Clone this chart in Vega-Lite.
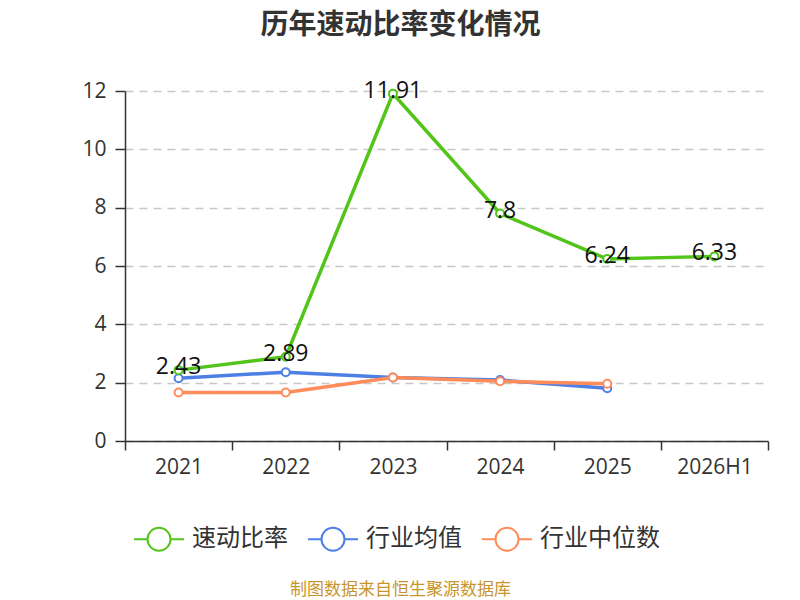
{
  "$schema": "https://vega.github.io/schema/vega-lite/v6.json",
  "width": 643,
  "height": 350,
  "autosize": {"type": "none"},
  "padding": {"top": 91, "left": 125, "right": 32, "bottom": 159},
  "background": "white",
  "title": {
    "text": "历年速动比率变化情况",
    "anchor": "middle",
    "frame": "group",
    "dx": -46,
    "offset": 40,
    "fontSize": 28,
    "fontWeight": "bold",
    "color": "#333333",
    "font": "Noto Sans CJK SC"
  },
  "data": {
    "values": [
      {"year": "2021", "series": "行业均值", "value": 2.15},
      {"year": "2022", "series": "行业均值", "value": 2.36},
      {"year": "2023", "series": "行业均值", "value": 2.18},
      {"year": "2024", "series": "行业均值", "value": 2.09},
      {"year": "2025", "series": "行业均值", "value": 1.81},
      {"year": "2021", "series": "行业中位数", "value": 1.66},
      {"year": "2022", "series": "行业中位数", "value": 1.66},
      {"year": "2023", "series": "行业中位数", "value": 2.18},
      {"year": "2024", "series": "行业中位数", "value": 2.05},
      {"year": "2025", "series": "行业中位数", "value": 1.96},
      {"year": "2021", "series": "速动比率", "value": 2.43},
      {"year": "2022", "series": "速动比率", "value": 2.89},
      {"year": "2023", "series": "速动比率", "value": 11.91},
      {"year": "2024", "series": "速动比率", "value": 7.8},
      {"year": "2025", "series": "速动比率", "value": 6.24},
      {"year": "2026H1", "series": "速动比率", "value": 6.33}
    ]
  },
  "encoding": {
    "x": {
      "field": "year",
      "type": "ordinal",
      "sort": null,
      "scale": {"type": "band", "paddingInner": 0, "paddingOuter": 0},
      "axis": {
        "title": "制图数据来自恒生聚源数据库",
        "titleX": 275,
        "titleY": 148,
        "titleAlign": "center",
        "titleBaseline": "middle",
        "titleFont": "Noto Sans CJK SC",
        "titleFontSize": 17,
        "titleFontWeight": "normal",
        "titleColor": "#c8952c",
        "labelAngle": 0,
        "tickBand": "extent",
        "tickSize": 9,
        "labelPadding": 6,
        "grid": false
      }
    },
    "y": {
      "field": "value",
      "type": "quantitative",
      "scale": {"domain": [0, 12]},
      "axis": {
        "title": null,
        "values": [0, 2, 4, 6, 8, 10, 12],
        "tickSize": 10,
        "labelPadding": 9,
        "grid": true,
        "gridDash": [8, 6],
        "gridColor": "#c8c8c8",
        "gridWidth": 1.5
      }
    }
  },
  "layer": [
    {
      "mark": {
        "type": "line",
        "strokeWidth": 3.5,
        "point": {"filled": false, "fill": "white", "size": 64, "strokeWidth": 2}
      },
      "encoding": {
        "color": {
          "field": "series",
          "type": "nominal",
          "scale": {
            "domain": ["速动比率", "行业均值", "行业中位数"],
            "range": ["#52c41a", "#4e7fe4", "#ff8c5a"]
          },
          "legend": {
            "title": null,
            "orient": "none",
            "direction": "horizontal",
            "legendX": 8,
            "legendY": 422,
            "symbolType": "M-1,0L-0.46,0M0.46,0L1,0M0.46,0A0.46,0.46,0,1,1,-0.46,0A0.46,0.46,0,1,1,0.46,0",
            "symbolSize": 2500,
            "symbolStrokeWidth": 2,
            "symbolFillColor": "white",
            "labelFont": "Noto Sans CJK SC",
            "labelFontSize": 24,
            "labelColor": "#333333",
            "labelOffset": 7,
            "columnPadding": 16,
            "padding": 0
          }
        }
      }
    },
    {
      "transform": [{"filter": "datum.series === '速动比率'"}],
      "mark": {
        "type": "text",
        "baseline": "middle",
        "align": "center",
        "dy": -3,
        "fontSize": 23,
        "font": "Open Sans",
        "color": "#111111"
      },
      "encoding": {"text": {"field": "value", "type": "quantitative"}}
    }
  ],
  "config": {
    "view": {"stroke": null},
    "axis": {
      "labelFont": "Open Sans",
      "labelFontSize": 21,
      "labelColor": "#333333",
      "domainColor": "#333333",
      "domainWidth": 1.5,
      "tickColor": "#333333",
      "tickWidth": 1.5
    }
  }
}
